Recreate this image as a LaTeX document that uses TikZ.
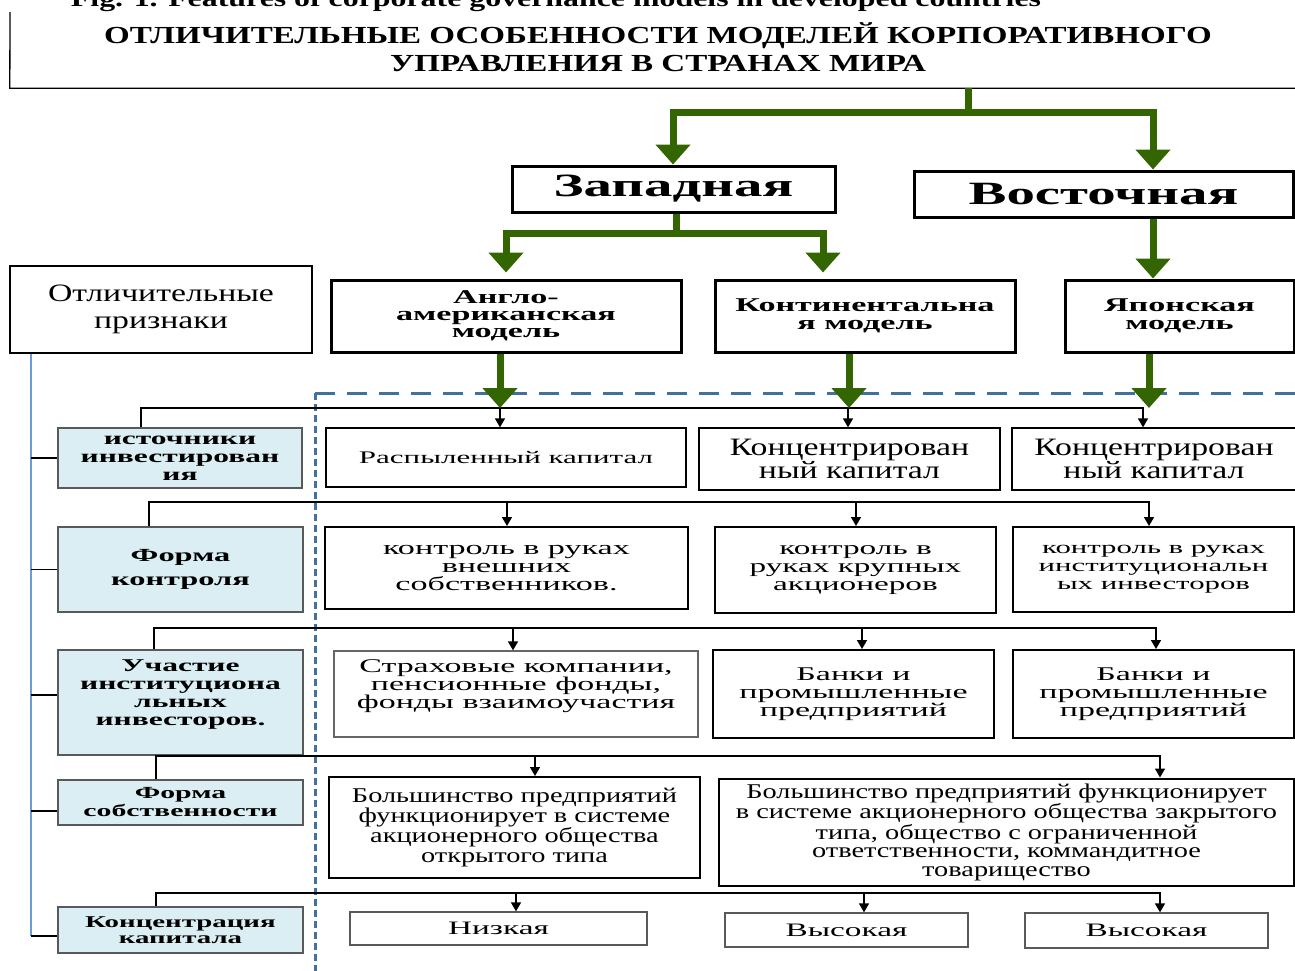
\documentclass[tikz,border=0pt]{standalone}
\usepackage{fontspec}
\setmainfont{Liberation Serif}[FakeStretch=1.35]
\newfontfamily\wf{Liberation Serif}[FakeStretch=1.75]
\usetikzlibrary{arrows.meta}
\definecolor{gr}{HTML}{336600}
\definecolor{lblue}{HTML}{DAEEF3}
\definecolor{dblue}{HTML}{41719C}
\definecolor{vblue}{HTML}{6C9BD6}
\newcommand\fsz[2]{\fontsize{#1}{#2}\selectfont}
\begin{document}
\begin{tikzpicture}[x=1pt,y=-1pt,
 bx/.style={draw, line width=1.3pt, inner sep=0pt, align=center},
 tbx/.style={bx, line width=3pt},
 mbx/.style={bx, line width=2pt},
 lbx/.style={draw=gray!70!black, fill=lblue, line width=1.8pt, inner sep=0pt, align=center},
 blk/.style={line width=1.5pt},
 barr/.style={blk, -{Triangle[length=9pt,width=10pt]}},
 gline/.style={draw=gr, line width=7pt},
 garr/.style={gline, -{Triangle[length=20pt,width=34pt]}},
 vline/.style={draw=vblue, line width=2pt},
]
\useasboundingbox (0,0) rectangle (1295,970);
\clip (0,0) rectangle (1295,970);
% caption
\node[anchor=base, font=\bfseries\fsz{23.6}{24}] (cap) at (556,6) {Fig. 1. Features of corporate governance models in developed countries};
% title
\node[font=\bfseries\fsz{24.5}{28}, align=center, minimum width=1296, minimum height=82, inner sep=0pt] (title) at (658,47)
 {ОТЛИЧИТЕЛЬНЫЕ ОСОБЕННОСТИ МОДЕЛЕЙ КОРПОРАТИВНОГО\\УПРАВЛЕНИЯ В СТРАНАХ МИРА};
\draw[line width=1.3pt] (10,12) -- (title.south west) -- (title.south east);
% level 1
\node[tbx, minimum width=323, minimum height=46, font=\wf\bfseries\fsz{32.5}{33}] (zap) at (673.5,189) {Западная};
\node[tbx, minimum width=379, minimum height=46, font=\wf\bfseries\fsz{32.5}{33}] (vost) at (1103.5,194) {Восточная};
% level 2
\node[tbx, minimum width=350, minimum height=72, font=\wf\bfseries\fsz{19.5}{17}] (anglo) at (506,316) {Англо-\\американская\\модель};
\node[tbx, minimum width=300, minimum height=72, font=\wf\bfseries\fsz{19.5}{18}] (kont) at (865,316) {Континентальна\\я модель};
\node[tbx, minimum width=229, minimum height=72, font=\wf\bfseries\fsz{19.5}{18}] (jap) at (1179.5,316) {Японская\\модель};
\node[bx, minimum width=302, minimum height=87, font=\fsz{25}{27}] (otl) at (161,309.5) {Отличительные\\признаки};
% dashed separators
\coordinate (dc) at (315,393);
\draw[dblue, line width=3pt, dash pattern=on 7pt off 4pt] (dc) -- (315,975);
\draw[dblue, line width=3pt, dash pattern=on 20pt off 12pt] (dc) -- (1300,393);
% left labels
\node[lbx, minimum width=244, minimum height=60, font=\wf\bfseries\fsz{18}{18}] (ist) at (180,458) {источники\\инвестирован\\ия};
\node[lbx, minimum width=245, minimum height=85, font=\wf\bfseries\fsz{18.5}{24}] (fk) at (180.5,569.5) {Форма\\контроля};
\node[lbx, minimum width=245, minimum height=105, font=\wf\bfseries\fsz{18}{18}] (uch) at (180.5,702.5) {Участие\\институциона\\льных\\инвесторов.\\[2pt]\mbox{}};
\node[lbx, minimum width=245, minimum height=45, font=\wf\bfseries\fsz{17}{18}] (fs) at (180.5,802.5) {Форма\\собственности};
\node[lbx, minimum width=245, minimum height=46, font=\wf\bfseries\fsz{16.5}{16}] (kk) at (180.5,930) {Концентрация\\капитала};
% row 1
\node[bx, minimum width=360, minimum height=59, font=\wf\fsz{17.7}{18}] (rasp) at (506,457.5) {Распыленный капитал};
\node[bx, minimum width=301, minimum height=62, font=\fsz{25}{22}] (konc1) at (849.5,459) {Концентрирован\\ный капитал};
\node[bx, minimum width=284, minimum height=62, font=\fsz{25}{22}] (konc2) at (1154,459) {Концентрирован\\ный капитал};
% row 2
\node[mbx, minimum width=363, minimum height=82, font=\wf\fsz{19.5}{18}] (c1) at (506.5,568) {контроль в руках\\внешних\\собственников.};
\node[mbx, minimum width=281, minimum height=86, font=\wf\fsz{19}{18}] (c2) at (855.5,570) {контроль в\\руках крупных\\акционеров};
\node[mbx, minimum width=281, minimum height=85, font=\wf\fsz{17.6}{18}] (c3) at (1153.5,569.5) {контроль в руках\\институциональн\\ых инвесторов};
% row 3
\node[bx, draw=gray!80!black, minimum width=364, minimum height=86, font=\wf\fsz{19.4}{18}] (s1) at (516,694) {Страховые компании,\\пенсионные фонды,\\фонды взаимоучастия\\[2pt]\mbox{}};
\node[mbx, minimum width=281, minimum height=88, font=\wf\fsz{19.4}{18}] (s2) at (853.5,694) {Банки и\\промышленные\\предприятий};
\node[mbx, minimum width=281, minimum height=88, font=\wf\fsz{19.4}{18}] (s3) at (1153.5,694) {Банки и\\промышленные\\предприятий};
% row 4
\node[mbx, minimum width=371, minimum height=101, font=\fsz{21}{20}] (b1) at (514.5,827.5) {Большинство предприятий\\функционирует в системе\\акционерного общества\\открытого типа};
\node[mbx, minimum width=575, minimum height=107, font=\fsz{21}{18.5}] (b2) at (1006.5,832) {Большинство предприятий функционирует\\в системе акционерного общества закрытого\\типа, общество с ограниченной\\ответственности, коммандитное\\товарищество};
% row 5
\node[bx, draw=gray!70!black, minimum width=297, minimum height=33, font=\wf\fsz{19}{20}] (n1) at (498.5,928.5) {Низкая};
\node[bx, draw=gray!70!black, minimum width=243, minimum height=34, font=\wf\fsz{19}{20}] (v1) at (846.5,930) {Высокая};
\node[bx, draw=gray!70!black, minimum width=243, minimum height=35, font=\wf\fsz{19}{20}] (v2) at (1146.5,930.5) {Высокая};
% blue vertical spine and stubs
\draw[vline] (otl.south -| 31,0) -- (31,936);
\draw[blk] (31,458) -- (ist.west);
\draw[blk] (31,569.5) -- (fk.west);
\draw[blk] (31,695) -- (uch.west |- 0,695);
\draw[blk] (31,811) -- (fs.west |- 0,811);
\draw[blk] (31,936) -- (kk.west |- 0,936);
% row buses
\draw[barr] (ist.north -| 141,0) |- (1143,408) -- (konc2.north -| 1143,0);
\draw[barr] (500,408) -- (rasp.north -| 500,0);
\draw[barr] (848,408) -- (konc1.north -| 848,0);
\draw[barr] (fk.north -| 149,0) |- (1149,502) -- (c3.north -| 1149,0);
\draw[barr] (507,502) -- (c1.north -| 507,0);
\draw[barr] (856,502) -- (c2.north -| 856,0);
\draw[barr] (uch.north -| 154,0) |- (1156,628) -- (s3.north -| 1156,0);
\draw[barr] (513,628) -- (s1.north -| 513,0);
\draw[barr] (862,628) -- (s2.north -| 862,0);
\draw[barr] (fs.north -| 156,0) |- (1160,756) -- (b2.north -| 1160,0);
\draw[barr] (535,756) -- (b1.north -| 535,0);
\draw[barr] (kk.north -| 156,0) |- (1160,893) -- (v2.north -| 1160,0);
\draw[barr] (516,893) -- (n1.north -| 516,0);
\draw[barr] (864,893) -- (v1.north -| 864,0);
% green arrows
\coordinate (g1) at (968,112);
\draw[gline] (title.south -| 968,0) -- (g1);
\draw[garr] (g1) -| (zap.north -| 673,0);
\draw[garr] (g1) -| (vost.north -| 1153,0);
\coordinate (g2) at (676,233);
\draw[gline] (zap.south -| 676,0) -- (g2);
\draw[garr, shorten >=6pt] (g2) -| (anglo.north -| 506,0);
\draw[garr, shorten >=6pt] (g2) -| (kont.north -| 823,0);
\draw[garr] (vost.south -| 1153,0) -- (jap.north -| 1153,0);
\coordinate (ga) at (500,408);
\coordinate (gk) at (849,408);
\coordinate (gj) at (1149,408);
\draw[garr] (anglo.south -| 500,0) -- (ga);
\draw[garr] (kont.south -| 849,0) -- (gk);
\draw[garr] (jap.south -| 1149,0) -- (gj);
\end{tikzpicture}
\end{document}
